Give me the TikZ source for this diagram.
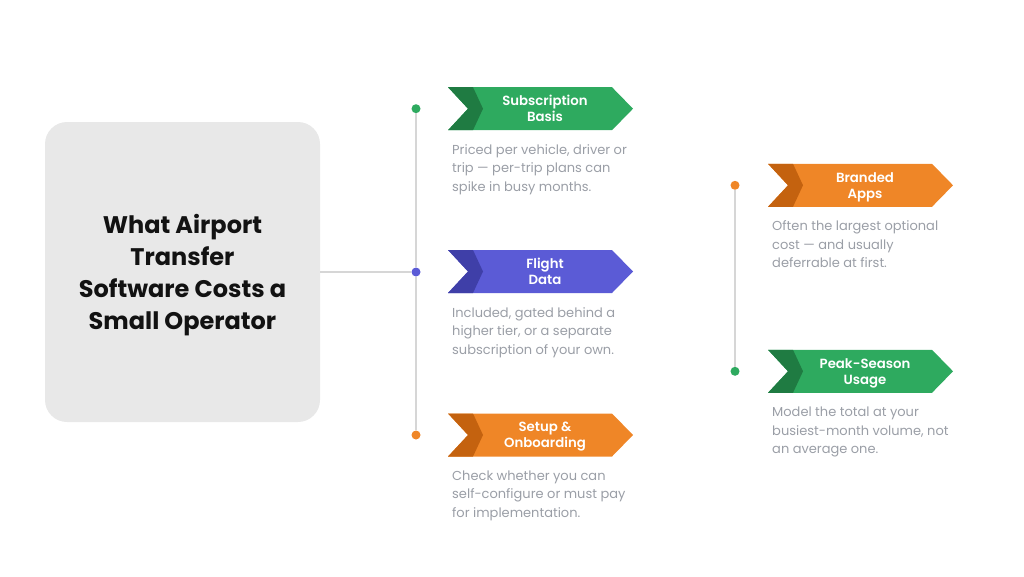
\documentclass[tikz,border=0pt]{standalone}
\usepackage{fontspec}
\usepackage{xcolor}
\setmainfont{Poppins}
\newfontfamily\tagfont{Poppins SemiBold}

\definecolor{grnmain}{HTML}{2EAA5F}
\definecolor{grndark}{HTML}{1F7B42}
\definecolor{bluemain}{HTML}{5B5BD6}
\definecolor{bluedark}{HTML}{3F3FA8}
\definecolor{orgmain}{HTML}{EF8627}
\definecolor{orgdark}{HTML}{C4620F}
\definecolor{spinegray}{HTML}{D6D6D6}
\definecolor{boxgray}{HTML}{E8E8E8}
\definecolor{desctext}{HTML}{9A9EA6}

% chevron tag: left x, centre y, main colour, dark colour
\newcommand{\costtag}[4]{%
  \fill[#3] (#1,#2-21.5) -- ++(164,0) -- ++(21,21.5) -- ++(-21,21.5) -- ++(-164,0) -- ++(20,-21.5) -- cycle;
  \fill[#4] (#1,#2-21.5) -- ++(25,0) -- ++(10,21.5) -- ++(-10,21.5) -- ++(-25,0) -- ++(20,-21.5) -- cycle;
}

\tikzset{
  tagtext/.style={text=white, align=center, inner sep=0pt, text depth=0pt, font=\tagfont\fontsize{13.3}{16}\selectfont},
  desc/.style={text=desctext, align=left, anchor=north west, inner sep=0pt, font=\fontsize{13}{18.5}\selectfont},
  dot/.style={circle, inner sep=0pt, minimum size=9pt},
  spine/.style={draw=spinegray, line width=1.6pt}
}

\begin{document}
\begin{tikzpicture}[x=1pt, y=-1pt]
\useasboundingbox (0,0) rectangle (1024,576);

\node[fill=boxgray, rounded corners=22pt, minimum width=275pt, minimum height=300pt] (title) at (182.5,272) {};
\node[align=center, text=black!93, text depth=0pt, font=\bfseries\fontsize{24}{32}\selectfont] (titletext) at (182.5,272) {What Airport\\Transfer\\Software Costs a\\Small Operator};

\node[dot, fill=grnmain] (subdot) at (416,108.7) {};
\node[dot, fill=bluemain] (flightdot) at (416,272) {};
\node[dot, fill=orgmain] (setupdot) at (416,435) {};
\node[dot, fill=orgmain] (appdot) at (735,185.3) {};
\node[dot, fill=grnmain] (peakdot) at (735,371.3) {};

\draw[spine] (title) -- (flightdot);
\draw[spine] (subdot) -- (flightdot);
\draw[spine] (flightdot) -- (setupdot);
\draw[spine] (appdot) -- (peakdot);

\costtag{448}{108.7}{grnmain}{grndark}
\costtag{448}{271.5}{bluemain}{bluedark}
\costtag{448}{435}{orgmain}{orgdark}
\costtag{768}{185.3}{orgmain}{orgdark}
\costtag{768}{371.3}{grnmain}{grndark}

\node[tagtext] (subtag) at (545,108.7) {Subscription\\Basis};
\node[tagtext] (flighttag) at (545,271.5) {Flight\\Data};
\node[tagtext] (setuptag) at (545,435) {Setup \&\\Onboarding};
\node[tagtext] (apptag) at (865,185.3) {Branded\\Apps};
\node[tagtext] (peaktag) at (865,371.3) {Peak-Season\\Usage};

\node[desc] (subdesc) at (452,144.1) {Priced per vehicle, driver or\\trip — per-trip plans can\\spike in busy months.};
\node[desc] (flightdesc) at (452,306.9) {Included, gated behind a\\higher tier, or a separate\\subscription of your own.};
\node[desc] (setupdesc) at (452,470.4) {Check whether you can\\self-configure or must pay\\for implementation.};
\node[desc] (appdesc) at (772,220.7) {Often the largest optional\\cost — and usually\\deferrable at first.};
\node[desc] (peakdesc) at (772,406.7) {Model the total at your\\busiest-month volume, not\\an average one.};
\end{tikzpicture}
\end{document}
